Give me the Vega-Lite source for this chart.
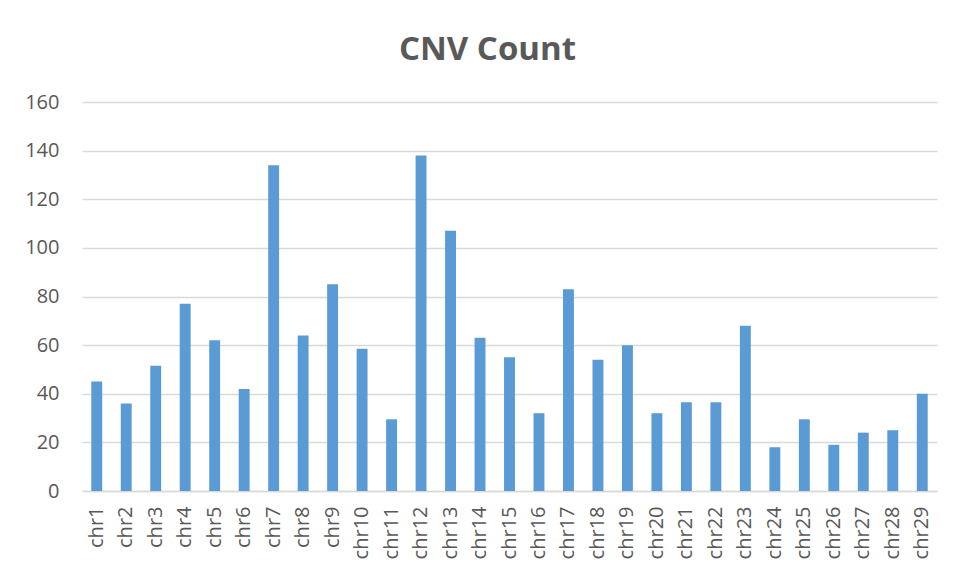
{
  "$schema": "https://vega.github.io/schema/vega-lite/v6.json",
  "autosize": {"type": "none"},
  "width": 855,
  "height": 389,
  "padding": {"left": 82, "top": 102, "right": 19, "bottom": 86},
  "background": "white",
  "title": {
    "text": "CNV Count",
    "font": "Open Sans",
    "fontSize": 33,
    "fontWeight": "bold",
    "color": "#595959",
    "anchor": "middle",
    "dx": -22,
    "offset": 25
  },
  "data": {
    "values": [
      {"chr": "chr1", "count": 45},
      {"chr": "chr2", "count": 36},
      {"chr": "chr3", "count": 51.5},
      {"chr": "chr4", "count": 77},
      {"chr": "chr5", "count": 62},
      {"chr": "chr6", "count": 42},
      {"chr": "chr7", "count": 134},
      {"chr": "chr8", "count": 64},
      {"chr": "chr9", "count": 85},
      {"chr": "chr10", "count": 58.5},
      {"chr": "chr11", "count": 29.5},
      {"chr": "chr12", "count": 138},
      {"chr": "chr13", "count": 107},
      {"chr": "chr14", "count": 63},
      {"chr": "chr15", "count": 55},
      {"chr": "chr16", "count": 32},
      {"chr": "chr17", "count": 83},
      {"chr": "chr18", "count": 54},
      {"chr": "chr19", "count": 60},
      {"chr": "chr20", "count": 32},
      {"chr": "chr21", "count": 36.5},
      {"chr": "chr22", "count": 36.5},
      {"chr": "chr23", "count": 68},
      {"chr": "chr24", "count": 18},
      {"chr": "chr25", "count": 29.5},
      {"chr": "chr26", "count": 19},
      {"chr": "chr27", "count": 24},
      {"chr": "chr28", "count": 25},
      {"chr": "chr29", "count": 40}
    ]
  },
  "mark": {"type": "bar", "color": "#5B9BD5"},
  "encoding": {
    "x": {
      "field": "chr",
      "type": "nominal",
      "sort": null,
      "title": null,
      "scale": {"paddingInner": 0.63, "paddingOuter": 0.315},
      "axis": {
        "labelAngle": -90,
        "labelFont": "Open Sans",
        "labelFontSize": 20,
        "labelColor": "#595959",
        "labelPadding": 15,
        "ticks": false,
        "domainColor": "#D9D9D9",
        "domainWidth": 1.5,
        "grid": false
      }
    },
    "y": {
      "field": "count",
      "type": "quantitative",
      "title": null,
      "scale": {"domain": [0, 160], "nice": false},
      "axis": {
        "values": [0, 20, 40, 60, 80, 100, 120, 140, 160],
        "labelFont": "Open Sans",
        "labelFontSize": 20,
        "labelColor": "#595959",
        "labelPadding": 23,
        "ticks": false,
        "domain": false,
        "grid": true,
        "gridColor": "#D9D9D9",
        "gridWidth": 1.5
      }
    }
  },
  "config": {
    "view": {"stroke": null}
  }
}
